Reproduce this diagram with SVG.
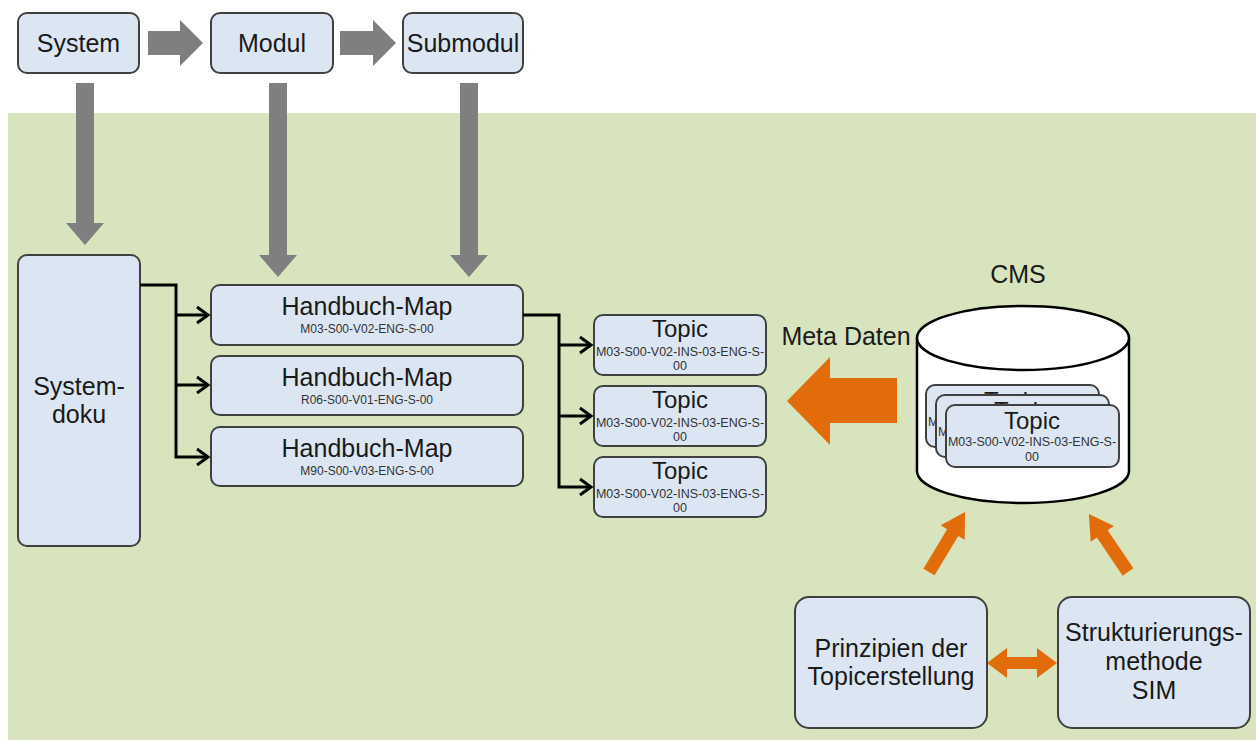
<svg xmlns="http://www.w3.org/2000/svg" width="1256" height="740" viewBox="0 0 1256 740">
<style>
.box{fill:#dce6f2;stroke:#404040;stroke-width:2}
.t{font-family:"Liberation Sans",Arial,sans-serif;fill:#1a1a1a;text-anchor:middle}
.big{font-size:25px}
.map{font-size:25px}
.code{font-size:12px;fill:#333}
.tcode{font-size:12.5px;fill:#333}
.topic{font-size:24px}
.gray{fill:#7f7f7f}
.orange{fill:#e36c0a}
.conn{fill:none;stroke:#000;stroke-width:3}
</style>
<defs>
<marker id="open" markerUnits="userSpaceOnUse" markerWidth="16" markerHeight="20" refX="13" refY="10" orient="auto">
<path d="M2,2 L13,10 L2,18" fill="none" stroke="#000" stroke-width="3"/>
</marker>
</defs>
<rect x="0" y="0" width="1256" height="740" fill="#ffffff"/>
<rect x="8" y="113" width="1248" height="627" fill="#d7e4bd"/>

<g id="gray-arrows">
<polygon class="gray" points="148,31 180,31 180,20 203,43 180,66 180,55 148,55"/>
<polygon class="gray" points="340,31 373,31 373,20 396,43 373,66 373,55 340,55"/>
<polygon class="gray" points="76,83 94,83 94,223 104,223 85,245 66,223 76,223"/>
<polygon class="gray" points="269,83 287,83 287,255 297,255 278,277 259,255 269,255"/>
<polygon class="gray" points="460,83 478,83 478,255 488,255 469,277 450,255 460,255"/>
</g>

<g id="system"><rect class="box" x="18" y="13" width="121" height="60" rx="9"/><text class="t big" x="78.5" y="52">System</text></g>
<g id="modul"><rect class="box" x="211" y="13" width="122" height="60" rx="9"/><text class="t big" x="272" y="52">Modul</text></g>
<g id="submodul"><rect class="box" x="403" y="13" width="120" height="60" rx="9"/><text class="t big" x="463" y="52">Submodul</text></g>

<g id="systemdoku"><rect class="box" x="18" y="255" width="122" height="291" rx="9"/><text class="t big" x="79" y="395">System-</text><text class="t big" x="79" y="423">doku</text></g>

<g id="map1"><rect class="box" x="211" y="285" width="312" height="60" rx="9"/><text class="t map" x="367" y="315">Handbuch-Map</text><text class="t code" x="367" y="333">M03-S00-V02-ENG-S-00</text></g>
<g id="map2"><rect class="box" x="211" y="356" width="312" height="59" rx="9"/><text class="t map" x="367" y="386">Handbuch-Map</text><text class="t code" x="367" y="404">R06-S00-V01-ENG-S-00</text></g>
<g id="map3"><rect class="box" x="211" y="427" width="312" height="59" rx="9"/><text class="t map" x="367" y="457">Handbuch-Map</text><text class="t code" x="367" y="475">M90-S00-V03-ENG-S-00</text></g>

<g id="topic1"><rect class="box" x="594" y="315" width="172" height="60" rx="9"/><text class="t topic" x="680" y="337">Topic</text><text class="t tcode" x="680" y="356">M03-S00-V02-INS-03-ENG-S-</text><text class="t tcode" x="680" y="370">00</text></g>
<g id="topic2"><rect class="box" x="594" y="386" width="172" height="60" rx="9"/><text class="t topic" x="680" y="408">Topic</text><text class="t tcode" x="680" y="427">M03-S00-V02-INS-03-ENG-S-</text><text class="t tcode" x="680" y="441">00</text></g>
<g id="topic3"><rect class="box" x="594" y="457" width="172" height="60" rx="9"/><text class="t topic" x="680" y="479">Topic</text><text class="t tcode" x="680" y="498">M03-S00-V02-INS-03-ENG-S-</text><text class="t tcode" x="680" y="512">00</text></g>

<g id="connectors">
<path class="conn" d="M140,285 H176 V457 H208" marker-end="url(#open)"/>
<path class="conn" d="M176,315 H208" marker-end="url(#open)"/>
<path class="conn" d="M176,385 H208" marker-end="url(#open)"/>
<path class="conn" d="M523,315 H559 V487 H591" marker-end="url(#open)"/>
<path class="conn" d="M559,345 H591" marker-end="url(#open)"/>
<path class="conn" d="M559,416 H591" marker-end="url(#open)"/>
<polygon class="orange" points="897,378 830,378 830,357 787,401 830,445 830,423 897,423"/>
<polygon class="orange" transform="translate(929,572) rotate(31)" points="-6.5,0 -6.5,-46 -14,-46 0,-70 14,-46 6.5,-46 6.5,0"/>
<polygon class="orange" transform="translate(1128,572) rotate(-34)" points="-6.5,0 -6.5,-46 -14,-46 0,-70 14,-46 6.5,-46 6.5,0"/>
<polygon class="orange" points="987,663 1007,648 1007,657 1037,657 1037,648 1057,663 1037,678 1037,669 1007,669 1007,678"/>
</g>

<text class="t big" x="846" y="345">Meta Daten</text>
<text class="t big" x="1018" y="283">CMS</text>

<g id="cms">
<path d="M917,338 V471 A106,32 0 0 0 1129,471 V338" fill="#ffffff" stroke="#000" stroke-width="2.5"/>
<ellipse cx="1023" cy="338" rx="106" ry="32" fill="#ffffff" stroke="#000" stroke-width="2.5"/>
<g id="cms-topic-a"><rect class="box" x="926" y="385" width="173" height="62" rx="9"/><text class="t topic" x="1012" y="409">Topic</text><text class="t tcode" x="1012" y="426">M03-S00-V02-INS-03-ENG-S-</text><text class="t tcode" x="1012" y="441">00</text></g>
<g id="cms-topic-b"><rect class="box" x="936" y="395" width="173" height="62" rx="9"/><text class="t topic" x="1022" y="419">Topic</text><text class="t tcode" x="1022" y="436">M03-S00-V02-INS-03-ENG-S-</text><text class="t tcode" x="1022" y="451">00</text></g>
<g id="cms-topic-c"><rect class="box" x="946" y="405" width="173" height="62" rx="9"/><text class="t topic" x="1032" y="429">Topic</text><text class="t tcode" x="1032" y="446">M03-S00-V02-INS-03-ENG-S-</text><text class="t tcode" x="1032" y="461">00</text></g>
</g>

<g id="prinzipien"><rect class="box" x="795" y="597" width="192" height="131" rx="14"/><text class="t big" x="891" y="657">Prinzipien der</text><text class="t big" x="891" y="685">Topicerstellung</text></g>
<g id="struktur"><rect class="box" x="1058" y="597" width="192" height="131" rx="14"/><text class="t big" x="1154" y="641">Strukturierungs-</text><text class="t big" x="1154" y="670">methode</text><text class="t big" x="1154" y="699">SIM</text></g>
</svg>
